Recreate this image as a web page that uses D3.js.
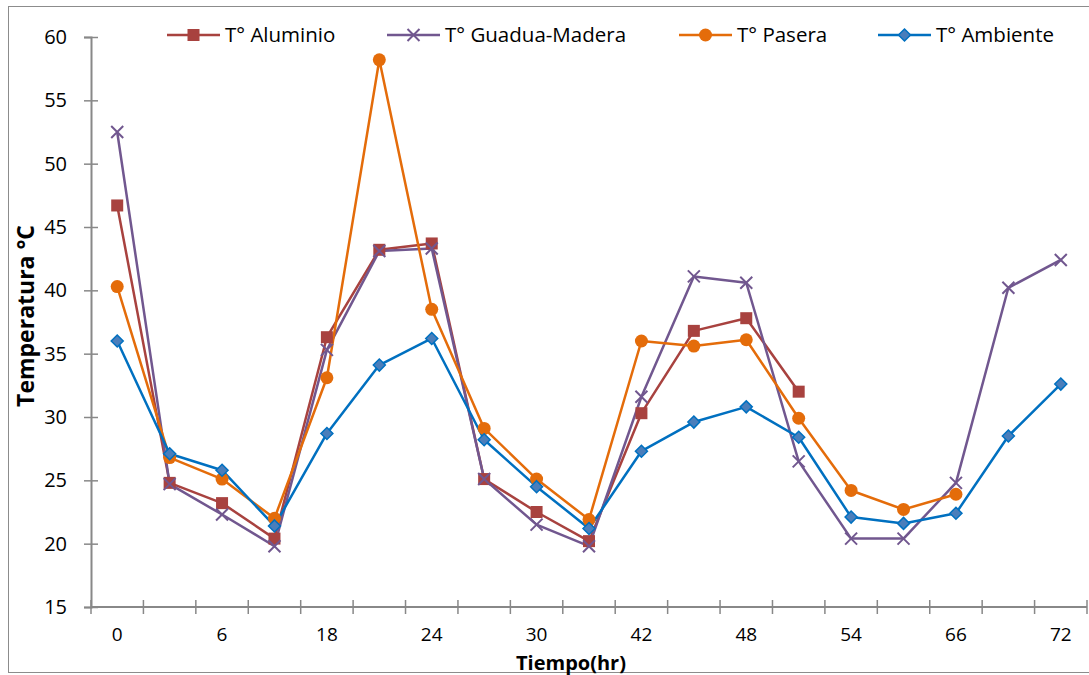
<!DOCTYPE html>
<html>
<head>
<meta charset="utf-8">
<script src="https://cdn.jsdelivr.net/npm/d3@7"></script>
<style>
  body { margin: 0; background: #fff; }
  text { font-family: "Open Sans", "Liberation Sans", sans-serif; }
</style>
</head>
<body>
<svg id="chart" width="1089" height="675"></svg>
<script>
// x categories (hours); only every second one gets a label
let hours = ["0", "3", "6", "12", "18", "21", "24", "27", "30", "36", "42", "45", "48", "51", "54", "60", "66", "69", "72"];
let yTicks = [15, 20, 25, 30, 35, 40, 45, 50, 55, 60];

let tAluminio = [46.7, 24.8, 23.2, 20.4, 36.3, 43.2, 43.7, 25.1, 22.5, 20.2, 30.3, 36.8, 37.8, 32.0, null, null, null, null, null];
let tGuadua = [52.5, 24.7, 22.3, 19.8, 35.3, 43.1, 43.3, 25.1, 21.5, 19.8, 31.6, 41.1, 40.6, 26.5, 20.4, 20.4, 24.8, 40.2, 42.4];
let tPasera = [40.3, 26.8, 25.1, 22.0, 33.1, 58.2, 38.5, 29.1, 25.1, 21.9, 36.0, 35.6, 36.1, 29.9, 24.2, 22.7, 23.9, null, null];
let tAmbiente = [36.0, 27.1, 25.8, 21.4, 28.7, 34.1, 36.2, 28.2, 24.5, 21.2, 27.3, 29.6, 30.8, 28.4, 22.1, 21.6, 22.4, 28.5, 32.6];

let series = [
    { name: "T° Aluminio", values: tAluminio, color: "#A8423F", marker: "square", legendX: 167 },
    { name: "T° Guadua-Madera", values: tGuadua, color: "#71578F", marker: "cross", legendX: 387 },
    { name: "T° Pasera", values: tPasera, color: "#E46C0A", marker: "circle", legendX: 679 },
    { name: "T° Ambiente", values: tAmbiente, color: "#0070C0", marker: "diamond", legendX: 878 }
];

let svg = d3.select("#chart");
let margin = { top: 37, right: 2, bottom: 68, left: 91 };
let width = 1087 - margin.left;
let height = 607 - margin.top;
let axisColor = "#888888";

// outer frame
svg.append("rect")
    .attr("x", 8.5).attr("y", 6.5)
    .attr("width", 1100).attr("height", 666)
    .attr("fill", "none")
    .attr("stroke", "#8c8c8c")
    .attr("stroke-width", 1);

let g = svg.append("g").attr("transform", "translate(" + margin.left + "," + margin.top + ")");

let x = d3.scaleBand()
    .domain(hours)
    .range([0, width]);

let y = d3.scaleLinear()
    .domain([15, 60])
    .range([height, 0]);

function cx(i) {
    return x(hours[i]) + x.bandwidth() / 2;
}

// y axis
let yAxis = g.append("g")
    .call(d3.axisLeft(y).tickValues(yTicks).tickSize(7).tickPadding(17));
yAxis.select(".domain").attr("stroke", axisColor).attr("stroke-width", 2);
yAxis.selectAll(".tick line").attr("stroke", axisColor).attr("stroke-width", 1.5).attr("x2", 7).attr("x1", -7);
yAxis.selectAll(".tick text").attr("font-size", 20).attr("fill", "#000")
    .attr("font-family", "Open Sans, sans-serif");

// x axis: ticks between categories, labels on every other category
let xAxis = g.append("g").attr("transform", "translate(0," + height + ")");
xAxis.append("line")
    .attr("x1", 0).attr("x2", width)
    .attr("stroke", axisColor).attr("stroke-width", 2);
let boundaries = hours.map(function (h) { return x(h); }).concat([width]);
xAxis.selectAll(".xtick")
    .data(boundaries)
    .enter().append("line")
    .attr("class", "xtick")
    .attr("x1", function (d) { return d; })
    .attr("x2", function (d) { return d; })
    .attr("y1", -7).attr("y2", 7)
    .attr("stroke", axisColor).attr("stroke-width", 1.5);
xAxis.selectAll(".xlabel")
    .data(hours.filter(function (d, i) { return i % 2 === 0; }))
    .enter().append("text")
    .attr("class", "xlabel")
    .attr("x", function (d) { return x(d) + x.bandwidth() / 2; })
    .attr("y", 34)
    .attr("text-anchor", "middle")
    .attr("font-size", 19)
    .attr("fill", "#000")
    .text(function (d) { return d; });

// axis titles
svg.append("text")
    .attr("transform", "translate(34,316) rotate(-90)")
    .attr("text-anchor", "middle")
    .attr("font-size", 23)
    .attr("font-weight", "bold")
    .text("Temperatura °C");

svg.append("text")
    .attr("x", 571).attr("y", 670)
    .attr("text-anchor", "middle")
    .attr("font-size", 20)
    .attr("font-weight", "bold")
    .text("Tiempo(hr)");

function drawMarker(sel, s) {
    if (s.marker === "square") {
        sel.append("rect")
            .attr("x", -6).attr("y", -6).attr("width", 12).attr("height", 12)
            .attr("fill", s.color);
    } else if (s.marker === "circle") {
        sel.append("circle").attr("r", 6.5).attr("fill", s.color);
    } else if (s.marker === "diamond") {
        sel.append("path")
            .attr("d", "M0,-6L6,0L0,6L-6,0Z")
            .attr("fill", "#4A7EBB")
            .attr("stroke", s.color).attr("stroke-width", 1.5);
    } else {
        sel.append("path")
            .attr("d", "M-6,-6L6,6M-6,6L6,-6")
            .attr("stroke", s.color).attr("stroke-width", 2);
    }
}

let line = d3.line()
    .defined(function (d) { return d !== null; })
    .x(function (d, i) { return cx(i); })
    .y(function (d) { return y(d); });

series.forEach(function (s) {
    g.append("path")
        .datum(s.values)
        .attr("fill", "none")
        .attr("stroke", s.color)
        .attr("stroke-width", 2.5)
        .attr("stroke-linejoin", "round")
        .attr("d", line);
});

series.forEach(function (s) {
    let pts = s.values.map(function (v, i) { return { v: v, i: i }; })
        .filter(function (d) { return d.v !== null; });
    g.selectAll(null)
        .data(pts)
        .enter().append("g")
        .attr("transform", function (d) { return "translate(" + cx(d.i) + "," + y(d.v) + ")"; })
        .each(function () { drawMarker(d3.select(this), s); });
});

// legend
let legend = svg.append("g");
series.forEach(function (s) {
    let lg = legend.append("g").attr("transform", "translate(" + s.legendX + ",35)");
    lg.append("line")
        .attr("x1", 0).attr("x2", 53)
        .attr("stroke", s.color).attr("stroke-width", 2.5);
    drawMarker(lg.append("g").attr("transform", "translate(26.5,0)"), s);
    lg.append("text")
        .attr("x", 58).attr("y", 7)
        .attr("font-size", 20.5)
        .attr("fill", "#000")
        .text(s.name);
});
</script>
</body>
</html>
